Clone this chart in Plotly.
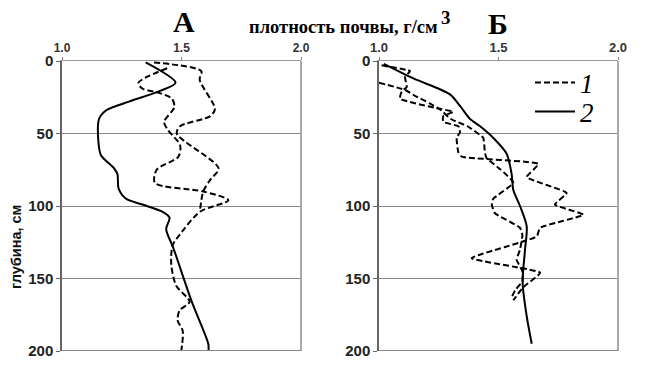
import plotly.graph_objects as go

# ---------------- data ----------------
# Panel A
a_solid_depth = [1, 15, 21, 28, 34, 40, 55, 65, 74, 78, 88, 95, 99, 104, 108, 116, 129, 166, 195, 200]
a_solid_dens = [1.35, 1.475, 1.405, 1.28, 1.185, 1.155, 1.152, 1.163, 1.218, 1.232, 1.237, 1.268, 1.337,
                1.421, 1.45, 1.436, 1.466, 1.543, 1.612, 1.613]

a_dash1_depth = [5, 15, 19, 22, 26, 32, 42, 48, 58, 66, 75, 84, 90, 96, 104, 121, 127, 140, 155, 166,
                 172, 179, 186, 200]
a_dash1_dens = [1.44, 1.32, 1.336, 1.406, 1.46, 1.47, 1.427, 1.445, 1.494, 1.487, 1.396, 1.389, 1.591,
                1.696, 1.577, 1.487, 1.463, 1.457, 1.478, 1.534, 1.492, 1.484, 1.505, 1.499]

a_dash2_depth = [1, 7, 13, 33, 38, 45, 50, 74, 82, 90, 104]
a_dash2_dens = [1.385, 1.583, 1.576, 1.64, 1.62, 1.494, 1.48, 1.655, 1.62, 1.591, 1.577]

# Panel B
b_solid_depth = [2, 12, 23, 31, 40, 45, 53, 64, 78, 89, 100, 114, 130, 153, 176, 195]
b_solid_dens = [1.02, 1.144, 1.297, 1.339, 1.381, 1.423, 1.478, 1.534, 1.555, 1.562, 1.59, 1.618,
                1.611, 1.601, 1.618, 1.639]

b_dash1_depth = [3, 7, 11, 18, 21, 26, 33, 35, 38, 42, 45, 49, 53, 63, 66, 71, 80, 91, 99, 106,
                 115, 121, 136, 146, 156, 165]
b_dash1_dens = [1.011, 1.13, 1.109, 1.116, 1.095, 1.088, 1.255, 1.311, 1.269, 1.269, 1.332, 1.339,
                1.325, 1.332, 1.346, 1.667, 1.618, 1.785, 1.736, 1.855, 1.674, 1.66, 1.388, 1.674,
                1.604, 1.562]

b_dash2_depth = [15, 20, 24, 29, 34, 40, 45, 53, 63, 67, 75, 84, 95, 99, 105, 115, 120, 130, 137,
                 145, 152, 158, 163]
b_dash2_dens = [1.0, 1.11, 1.15, 1.21, 1.26, 1.30, 1.37, 1.436, 1.443, 1.45, 1.51, 1.562, 1.478,
                1.472, 1.485, 1.59, 1.60, 1.59, 1.576, 1.60, 1.60, 1.57, 1.555]

x_ticks = [1.0, 1.5, 2.0]
x_tick_labels = ["1.0", "1.5", "2.0"]
y_ticks = [0, 50, 100, 150, 200]

# the page body has an 8px margin: figure is sized to fit the 649x390 window
OFF = 8
W, H = 649 - 2 * OFF, 390 - 2 * OFF


def PX(px):
    return (px - OFF) / W


def PY(py):
    return 1 - (py - OFF) / H


fig = go.Figure()

DASH = "6px,3px"


def add(x, y, xa, ya, dash, name=None, legend=None, smooth=0.8):
    fig.add_trace(go.Scatter(
        x=x, y=y, xaxis=xa, yaxis=ya, mode="lines",
        line=dict(color="black", width=2, dash=dash, shape="spline", smoothing=smooth),
        name=name, showlegend=legend is not None, legend=legend or "legend", hoverinfo="skip"))


add(a_dash1_dens, a_dash1_depth, "x", "y", DASH)
add(a_dash2_dens, a_dash2_depth, "x", "y", DASH)
add(a_solid_dens, a_solid_depth, "x", "y", "solid")
add(b_dash1_dens, b_dash1_depth, "x2", "y2", DASH, name="<i>1</i>", legend="legend", smooth=0.4)
add(b_dash2_dens, b_dash2_depth, "x2", "y2", DASH, smooth=0.4)
add(b_solid_dens, b_solid_depth, "x2", "y2", "solid", name="<i>2</i>", legend="legend2")

ydom = [PY(351), PY(61)]


def xax(dom, fsize, anchor):
    return dict(domain=dom, range=[1, 2], side="top", anchor=anchor, automargin=False,
                tickvals=x_ticks, ticktext=x_tick_labels, ticks="outside", ticklen=3,
                tickcolor="#888", showline=True, linecolor="#999", linewidth=1,
                showgrid=False, zeroline=False,
                tickfont=dict(family="Liberation Sans", size=fsize, color="#333", weight="bold"))


def yax(anchor):
    return dict(domain=ydom, range=[200, 0], anchor=anchor, tickvals=y_ticks, automargin=False,
                ticks="outside", ticklen=4, tickcolor="#666",
                showline=True, linecolor="#666", linewidth=1.5,
                showgrid=True, gridcolor="#888", gridwidth=1, zeroline=False,
                tickfont=dict(family="Liberation Sans", size=15, color="#222", weight="bold"))


def leg(y):
    return dict(x=PX(530), y=PY(y), xanchor="left", yanchor="middle",
                bgcolor="rgba(0,0,0,0)", itemwidth=40,
                font=dict(family="Liberation Serif", size=27, color="black"))


fig.update_layout(
    width=W, height=H,
    margin=dict(l=0, r=0, t=0, b=0, autoexpand=False),
    paper_bgcolor="white", plot_bgcolor="white",
    xaxis=xax([PX(62), PX(301)], 12, "y"),
    yaxis=yax("x"),
    xaxis2=xax([PX(379), PX(618)], 13, "y2"),
    yaxis2=yax("x2"),
    legend=leg(83),
    legend2=leg(112),
    showlegend=True,
)

# right edge and bottom lines of each panel
for xr, yr in [("x", "y"), ("x2", "y2")]:
    fig.add_shape(type="line", xref=xr + " domain", yref=yr + " domain", x0=1, x1=1, y0=0, y1=1,
                  line=dict(color="#aaa", width=2))
    fig.add_shape(type="line", xref=xr + " domain", yref=yr, x0=0, x1=1, y0=200, y1=200,
                  line=dict(color="#888", width=2))


def ann(text, x, y, size, family, weight="bold", xanchor="center", angle=0, color="black"):
    fig.add_annotation(text=text, x=PX(x), y=PY(y), xref="paper", yref="paper",
                       showarrow=False, xanchor=xanchor, yanchor="middle", textangle=angle,
                       font=dict(family=family, size=size, color=color, weight=weight))


ann("А", 184, 21, 30, "Liberation Serif")
ann("Б", 498, 23, 30, "Liberation Serif")
ann("плотность почвы, г/см", 247, 27, 18.5, "Liberation Serif", xanchor="left")
ann("3", 439, 18, 19, "Liberation Serif", xanchor="left")
ann("глубина, см", 16, 247, 14.5, "Liberation Sans", angle=-90, color="#111")

fig.write_html("out.html")
